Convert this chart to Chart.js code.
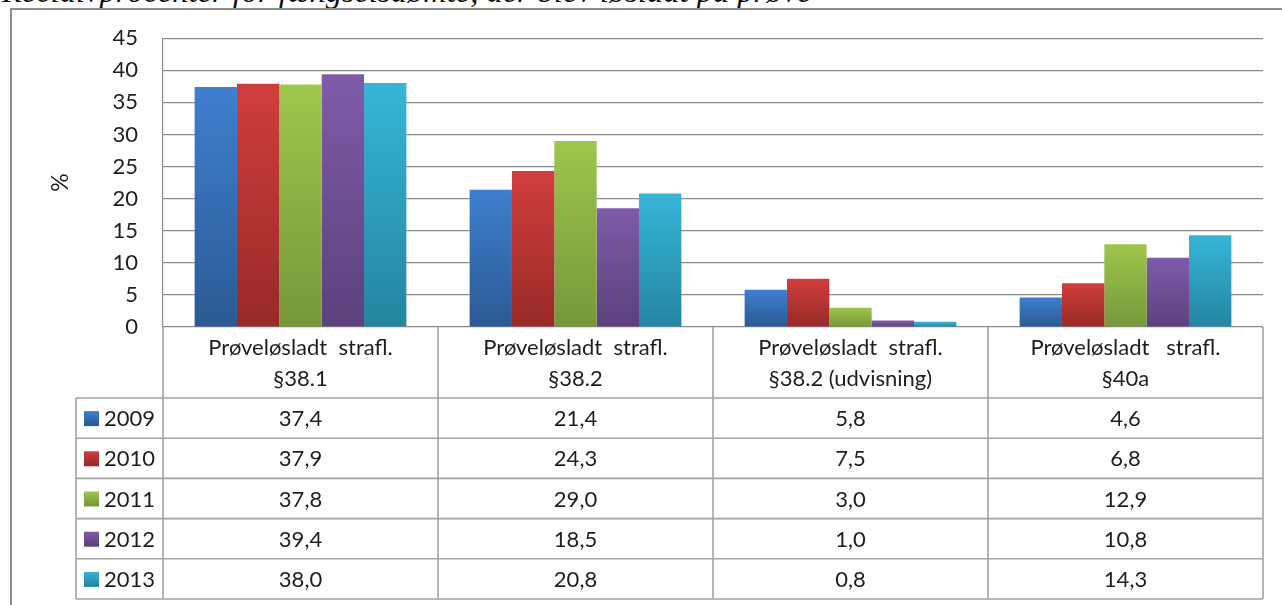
<!DOCTYPE html>
<html>
<head>
<meta charset="utf-8">
<script src="https://cdn.jsdelivr.net/npm/chart.js@4"></script>
<style>
  html, body { margin: 0; padding: 0; background: #fff; overflow: hidden; }
  #page { position: relative; width: 1282px; height: 605px; overflow: hidden; }
  #heading {
    position: absolute; left: 2px; top: -25px; margin: 0;
    font: italic 32.5px "Liberation Serif", "DejaVu Serif", serif; line-height: 1;
    color: #111; white-space: nowrap;
  }
  #frame {
    position: absolute; left: 10px; top: 8px; width: 1400px; height: 800px;
    border: 2.5px solid #8e8e8e; box-sizing: border-box;
  }
  #wrap { position: absolute; left: 0; top: 0; width: 1282px; height: 605px; }
</style>
</head>
<body>
<div id="page">
  <div id="heading">Recidivprocenter for fængselsdømte, der blev løsladt på prøve</div>
  <div id="frame"></div>
  <div id="wrap"><canvas id="chart"></canvas></div>
</div>
<script>
const categories = [
    ['Prøveløsladt  strafl.', '§38.1'],
    ['Prøveløsladt  strafl.', '§38.2'],
    ['Prøveløsladt  strafl.', '§38.2 (udvisning)'],
    ['Prøveløsladt   strafl.', '§40a']
];
const years = ['2009', '2010', '2011', '2012', '2013'];
const values2009 = [37.4, 21.4, 5.8, 4.6];
const values2010 = [37.9, 24.3, 7.5, 6.8];
const values2011 = [37.8, 29.0, 3.0, 12.9];
const values2012 = [39.4, 18.5, 1.0, 10.8];
const values2013 = [38.0, 20.8, 0.8, 14.3];
const yTicks = [0, 5, 10, 15, 20, 25, 30, 35, 40, 45];

// Excel 2007 style gradients: light top, dark bottom
const seriesColors = [
    ['#3e7fcf', '#2b5a94'],
    ['#d03e3c', '#982a28'],
    ['#9ec64c', '#76973a'],
    ['#7f5ba9', '#5c417c'],
    ['#36b5d8', '#24859f']
];

const FONT = 'Lato, "Open Sans", sans-serif';
const TEXT = '#1e1e1e';
const LINE = '#a3a3a3';

function barGradient(ctx, top, bottom, pair) {
    const g = ctx.createLinearGradient(0, top, 0, bottom);
    g.addColorStop(0, pair[0]);
    g.addColorStop(1, pair[1]);
    return g;
}

function fmt(v) {
    return v.toFixed(1).replace('.', ',');
}

const allValues = [values2009, values2010, values2011, values2012, values2013];

// data table under the plot, lined up with the category scale
const dataTable = {
    id: 'dataTable',
    afterDraw(chart) {
        const ctx = chart.ctx;
        const area = chart.chartArea;
        const y = chart.scales.y;
        const top0 = y.getPixelForValue(0);
        const headH = 71;
        const rowH = 40.2;
        const legendLeft = 76;
        const n = categories.length;
        const colW = (area.right - area.left) / n;
        const bottom = top0 + headH + rowH * years.length;

        ctx.save();
        ctx.strokeStyle = LINE;
        ctx.lineWidth = 1.6;
        ctx.beginPath();
        // horizontal lines
        for (let r = 0; r <= years.length; r++) {
            const yy = top0 + headH + r * rowH;
            ctx.moveTo(legendLeft, yy);
            ctx.lineTo(area.right, yy);
        }
        // vertical lines
        ctx.moveTo(legendLeft, top0 + headH);
        ctx.lineTo(legendLeft, bottom);
        for (let i = 0; i <= n; i++) {
            const xx = area.left + i * colW;
            ctx.moveTo(xx, top0);
            ctx.lineTo(xx, bottom);
        }
        ctx.stroke();

        ctx.fillStyle = TEXT;
        ctx.font = '22px ' + FONT;
        ctx.textAlign = 'center';
        ctx.textBaseline = 'middle';
        const xs = chart.scales.x;
        categories.forEach((lines, i) => {
            const cx = xs.getPixelForValue(i);
            ctx.fillText(lines[0], cx, top0 + 21);
            ctx.fillText(lines[1], cx, top0 + 52);
        });

        years.forEach((yr, r) => {
            const cy = top0 + headH + r * rowH + rowH / 2;
            const pair = seriesColors[r];
            ctx.fillStyle = barGradient(ctx, cy - 7, cy + 7, pair);
            ctx.fillRect(84, cy - 7, 15, 15);
            ctx.fillStyle = TEXT;
            ctx.textAlign = 'left';
            ctx.fillText(yr, 104, cy + 1);
            ctx.textAlign = 'center';
            allValues[r].forEach((v, i) => {
                ctx.fillText(fmt(v), xs.getPixelForValue(i), cy + 1);
            });
        });
        ctx.restore();
    }
};

const datasets = years.map((yr, k) => ({
    label: yr,
    data: allValues[k],
    borderWidth: 0,
    categoryPercentage: 0.77,
    barPercentage: 1.0,
    backgroundColor: (c) => {
        const chart = c.chart;
        if (!chart.chartArea || c.raw === undefined) return seriesColors[k][0];
        const ys = chart.scales.y;
        return barGradient(chart.ctx, ys.getPixelForValue(c.raw), ys.getPixelForValue(0), seriesColors[k]);
    }
}));

new Chart(document.getElementById('chart'), {
    type: 'bar',
    data: {
        labels: categories.map(c => c.join(' ')),
        datasets: datasets
    },
    plugins: [dataTable],
    options: {
        responsive: true,
        maintainAspectRatio: false,
        animation: false,
        layout: { padding: { left: 0, top: 38, right: 19, bottom: 278 } },
        plugins: {
            legend: { display: false },
            tooltip: { enabled: false },
            title: { display: false }
        },
        scales: {
            x: { display: false },
            y: {
                min: 0,
                max: 45,
                afterFit: (s) => { s.width = 163; },
                afterBuildTicks: (s) => { s.ticks = yTicks.map(v => ({ value: v })); },
                grid: { color: '#8c8c8c', lineWidth: 1.2, drawTicks: false },
                border: { display: true, color: '#8c8c8c', width: 1.2 },
                ticks: {
                    padding: 25,
                    color: TEXT,
                    font: { family: FONT, size: 22 }
                },
                title: {
                    display: true,
                    text: '%',
                    color: TEXT,
                    font: { family: FONT, size: 23 },
                    padding: { top: 47 }
                }
            }
        }
    }
});
</script>
</body>
</html>
